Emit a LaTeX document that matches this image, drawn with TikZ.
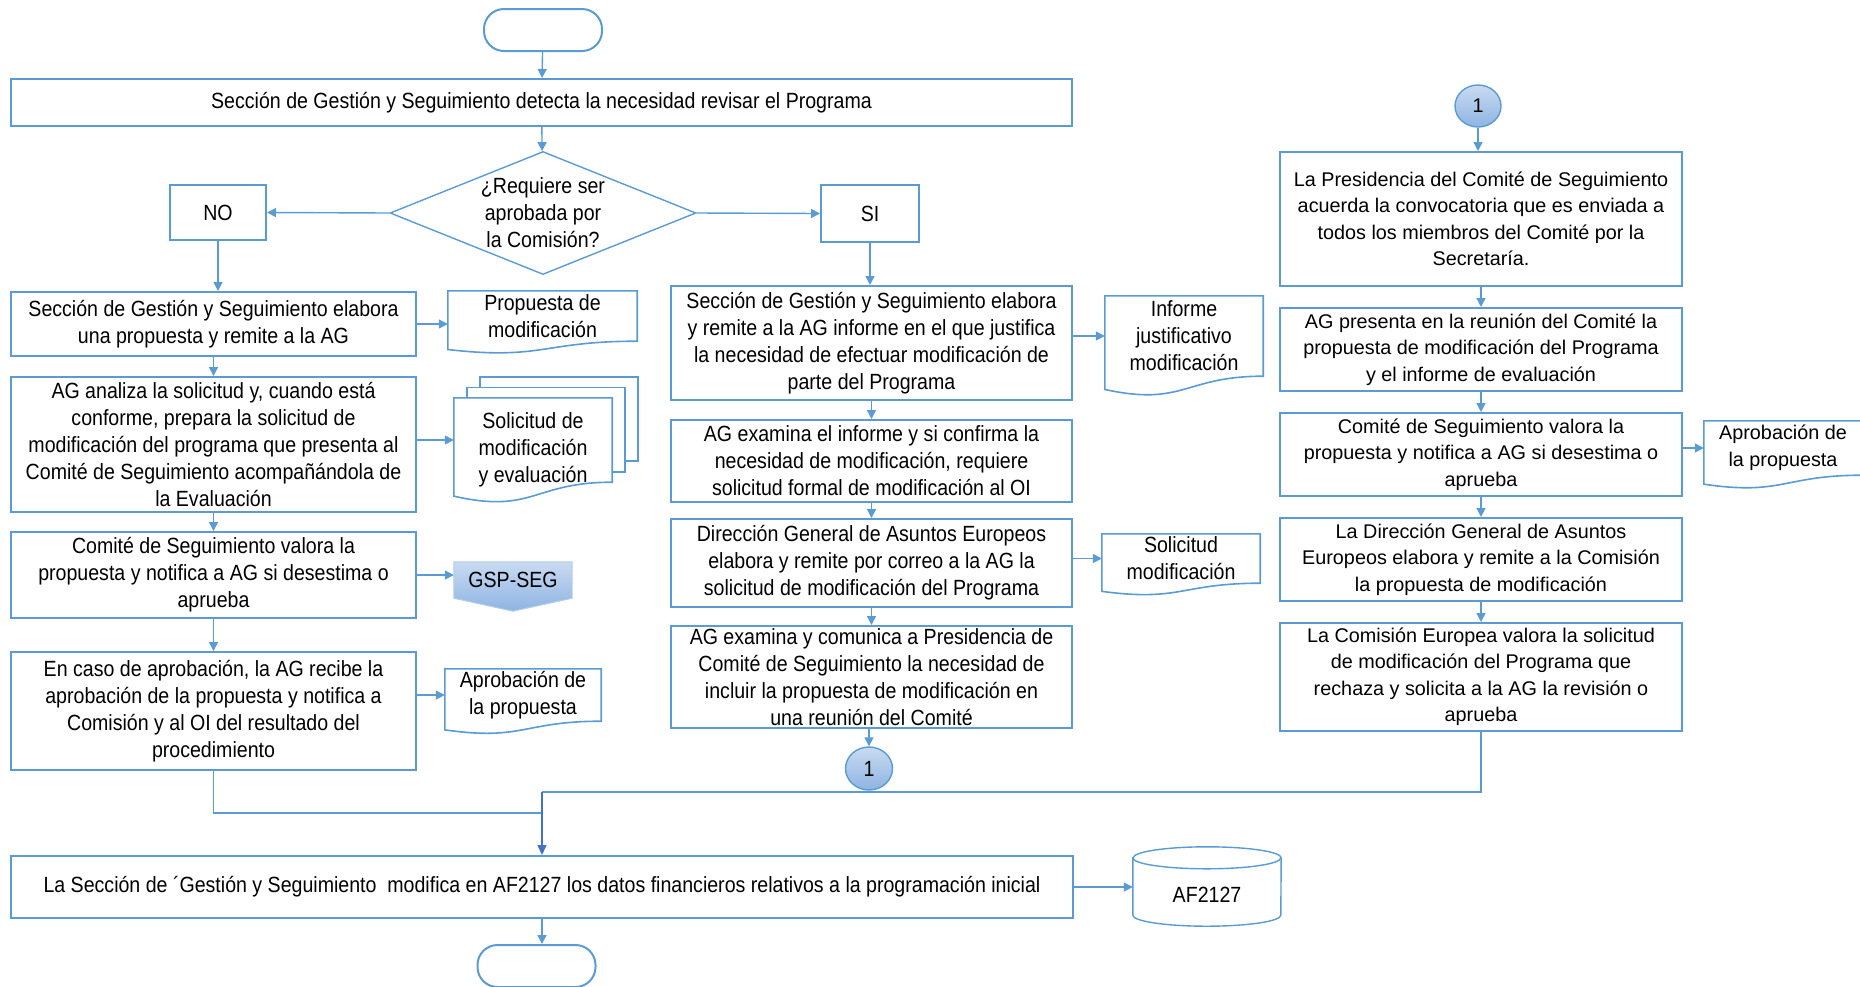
\documentclass[tikz,border=0pt]{standalone}
\usepackage{fontspec}
\setmainfont{Liberation Sans}
\newfontfamily\condfont{Liberation Sans}[FakeStretch=0.89]
\usetikzlibrary{arrows.meta,shapes.geometric,calc,backgrounds}
\definecolor{lineblue}{HTML}{5B9BD5}
\definecolor{darkblue}{HTML}{4472C4}
\definecolor{fillhi}{HTML}{C9DBF1}
\definecolor{filllo}{HTML}{8EB4E3}
\newcommand\condsize{\condfont\fontsize{22}{27}\selectfont}
\newcommand\widesize{\fontsize{19.8}{26.5}\selectfont}

\tikzset{
  stepbox/.style={draw=lineblue, line width=2pt, fill=white, align=center, inner sep=1pt, font=\condsize, text=black},
  widebox/.style={stepbox, font=\widesize},
  doctext/.style={align=center, inner sep=0pt, font=\condsize, text=black},
  docline/.style={draw=lineblue, line width=1.6pt, fill=white},
  flow/.style={draw=lineblue, line width=1.4pt, -{Triangle[length=9pt,width=9pt]}},
  plainline/.style={draw=lineblue, line width=1.4pt},
  terminal/.style={draw=lineblue, line width=2pt, rounded corners=20pt, minimum width=118pt, minimum height=42pt},
  connector/.style={ellipse, draw=lineblue, line width=1.4pt, top color=fillhi, bottom color=filllo, inner sep=0pt, minimum width=47pt, minimum height=43pt, text=black},
}

% document symbol: node covers the upper part, the wavy edge hangs below it
\newcommand\docshape[1]{%
  \path[docline] (#1.north west) -- (#1.north east) -- (#1.south east)
    .. controls (#1.south) and ($(#1.north)!1.38!(#1.south)$) ..
    ($(#1.north west)!1.165!(#1.south west)$) -- cycle;}

\begin{document}
\begin{tikzpicture}[x=1pt, y=-1pt]
\useasboundingbox (0,0) rectangle (1860,986);

% ---------- start ----------
\node[terminal] (start) at (543,30) {};
\node[stepbox, minimum width=1061pt, minimum height=47pt] (detect) at (541.5,102.5)
  {Sección de Gestión y Seguimiento detecta la necesidad revisar el Programa};
\node[diamond, draw=lineblue, line width=1.4pt, minimum width=306pt, minimum height=123pt, inner sep=0pt] (dia) at (543,213) {};
\node[doctext] (qtext) at (dia.center) {¿Requiere ser\\aprobada por\\la Comisión?};
\node[stepbox, minimum width=96pt, minimum height=55pt] (no) at (218,212.5) {NO};
\node[stepbox, minimum width=98pt, minimum height=57pt] (si) at (870,213.5) {SI};

% ---------- left column ----------
\node[stepbox, minimum width=405pt, minimum height=64pt] (L1) at (213.5,324)
  {Sección de Gestión y Seguimiento elabora\\una propuesta y remite a la AG};
\node[stepbox, minimum width=405pt, minimum height=135pt] (L2) at (213.5,444.5)
  {AG analiza la solicitud y, cuando está\\conforme, prepara la solicitud de\\modificación del programa que presenta al\\Comité de Seguimiento acompañándola de\\la Evaluación};
\node[stepbox, minimum width=405pt, minimum height=86pt] (L3) at (213.5,575)
  {Comité de Seguimiento valora la\\propuesta y notifica a AG si desestima o\\aprueba};
\node[stepbox, minimum width=405pt, minimum height=118pt] (L4) at (213.5,711)
  {En caso de aprobación, la AG recibe la\\aprobación de la propuesta y notifica a\\Comisión y al OI del resultado del\\procedimiento};

\node[doctext, minimum width=189pt, minimum height=50pt] (prop) at (542.5,316) {Propuesta de\\modificación};
\node[minimum width=158pt, minimum height=84pt, inner sep=0pt] (md) at (533,440) {};
\node[doctext] (mdtext) at ($(md.center)+(0pt,-10pt)$) {Solicitud de\\modificación\\y evaluación};
\node[doctext, minimum width=118pt, minimum height=36pt] (gsp) at (513,580) {GSP-SEG};
\node[doctext, minimum width=156pt, minimum height=52pt] (ap1) at (523,695) {Aprobación de\\la propuesta};

% ---------- middle column ----------
\node[stepbox, minimum width=401pt, minimum height=114pt] (M1) at (871.5,343)
  {Sección de Gestión y Seguimiento elabora\\y remite a la AG informe en el que justifica\\la necesidad de efectuar modificación de\\parte del Programa};
\node[stepbox, minimum width=401pt, minimum height=82pt] (M2) at (871.5,461)
  {AG examina el informe y si confirma la\\necesidad de modificación, requiere\\solicitud formal de modificación al OI};
\node[stepbox, minimum width=401pt, minimum height=88pt] (M3) at (871.5,563)
  {Dirección General de Asuntos Europeos\\elabora y remite por correo a la AG la\\solicitud de modificación del Programa};
\node[stepbox, minimum width=401pt, minimum height=102pt] (M4) at (871.5,677)
  {AG examina y comunica a Presidencia de\\Comité de Seguimiento la necesidad de\\incluir la propuesta de modificación en\\una reunión del Comité};
\node[connector, font=\condsize] (c1) at (869,768.5) {1};

\node[doctext, minimum width=158pt, minimum height=80pt] (inf) at (1184,336) {Informe\\justificativo\\modificación};
\node[doctext, minimum width=158pt, minimum height=49pt] (sm) at (1181,558.5) {Solicitud\\modificación};

% ---------- right column ----------
\node[connector, font=\widesize, minimum width=46pt, minimum height=42pt] (c2) at (1478,106) {1};
\node[widebox, minimum width=402pt, minimum height=134pt] (R1) at (1481,219)
  {La Presidencia del Comité de Seguimiento\\acuerda la convocatoria que es enviada a\\todos los miembros del Comité por la\\Secretaría.};
\node[widebox, minimum width=402pt, minimum height=83pt] (R2) at (1481,349.5)
  {AG presenta en la reunión del Comité la\\propuesta de modificación del Programa\\y el informe de evaluación};
\node[widebox, minimum width=402pt, minimum height=83pt] (R3) at (1481,454.5)
  {Comité de Seguimiento valora la\\propuesta y notifica a AG si desestima o\\aprueba};
\node[widebox, minimum width=402pt, minimum height=83pt] (R4) at (1481,559.5)
  {La Dirección General de Asuntos\\Europeos elabora y remite a la Comisión\\la propuesta de modificación};
\node[widebox, minimum width=402pt, minimum height=108pt] (R5) at (1481,677)
  {La Comisión Europea valora la solicitud\\de modificación del Programa que\\rechaza y solicita a la AG la revisión o\\aprueba};
\node[doctext, font=\widesize, minimum width=158pt, minimum height=54pt] (ap2) at (1783,448) {Aprobación de\\la propuesta};

% ---------- bottom ----------
\node[stepbox, minimum width=1062pt, minimum height=62pt] (final) at (542,887)
  {La Sección de ´Gestión y Seguimiento~ modifica en AF2127 los datos financieros relativos a la programación inicial};
\node[minimum width=148pt, minimum height=79pt, inner sep=0pt] (af) at (1207,886.5) {};
\node[doctext] (aftext) at ($(af.center)+(0pt,-8pt)$) {AF2127};
\node[terminal] (end) at (536.5,966) {};

% ---------- symbol outlines behind the texts ----------
\begin{scope}[on background layer]
  \docshape{prop}
  \path[docline] ($(md.south west)+(26pt,21pt)$) rectangle ($(md.north east)+(26pt,21pt)$);
  \path[docline] ($(md.south west)+(13pt,10.5pt)$) rectangle ($(md.north east)+(13pt,10.5pt)$);
  \docshape{md}
  \docshape{ap1}
  \docshape{inf}
  \docshape{sm}
  \docshape{ap2}
  \path[draw=fillhi!80!lineblue, line width=1pt, top color=fillhi, bottom color=filllo]
    (gsp.north west) -- (gsp.north east) -- (gsp.south east) -- ($(gsp.south)+(0pt,-13pt)$)
    -- (gsp.south west) -- cycle;
  \path[draw=lineblue, line width=1.4pt, fill=white]
    ($(af.north west)+(0pt,-11pt)$) -- ($(af.south west)+(0pt,11pt)$)
    arc[start angle=180, end angle=360, x radius=74pt, y radius=11pt]
    -- ($(af.north east)+(0pt,-11pt)$)
    arc[start angle=0, end angle=180, x radius=74pt, y radius=11pt] -- cycle;
  \draw[draw=lineblue, line width=1.4pt] ($(af.north west)+(0pt,-11pt)$)
    arc[start angle=180, end angle=360, x radius=74pt, y radius=11pt];
\end{scope}

% ---------- connectors ----------
\draw[flow] (start) -- (detect);
\draw[flow] (detect) -- (dia);
\draw[flow] (dia.west) -- (no.east);
\draw[flow] (dia.east) -- (si.west);
\draw[flow] (no.south) -- (no.south |- L1.north);
\draw[flow] (L1) -- (L2);
\draw[flow] (L2) -- (L3);
\draw[flow] (L3) -- (L4);
\draw[flow] (L1.east) -- (L1.east -| prop.west);
\draw[flow] (L2.east |- md.west) -- (md.west);
\draw[flow] (L3.east) -- (L3.east -| gsp.west);
\draw[flow] (L4.east |- ap1.west) -- (ap1.west);

\draw[flow] (si.south) -- (si.south |- M1.north);
\draw[flow] (M1) -- (M2);
\draw[flow] (M2) -- (M3);
\draw[flow] (M3) -- (M4);
\draw[flow] (M4.south -| c1.north) -- (c1.north);
\draw[flow] (M1.east |- inf.west) -- (inf.west);
\draw[flow] (M3.east |- sm.west) -- (sm.west);

\draw[flow] (c2.south) -- (c2.south |- R1.north);
\draw[flow] (R1) -- (R2);
\draw[flow] (R2) -- (R3);
\draw[flow] (R3) -- (R4);
\draw[flow] (R4) -- (R5);
\draw[flow] (R3.east |- ap2.west) -- (ap2.west);

\coordinate (joinL) at (542,813);
\coordinate (joinR) at (542,792);
\draw[plainline] (L4.south) |- (joinL);
\draw[plainline] (R5.south) |- (joinR);
\draw[draw=darkblue, line width=1.4pt, -{Triangle[length=10pt,width=9pt]}] (joinR) -- (final.north);
\draw[flow] (final.east) -- (final.east -| af.west);
\draw[flow] (final.south) -- (final.south |- end.north);
\end{tikzpicture}
\end{document}
